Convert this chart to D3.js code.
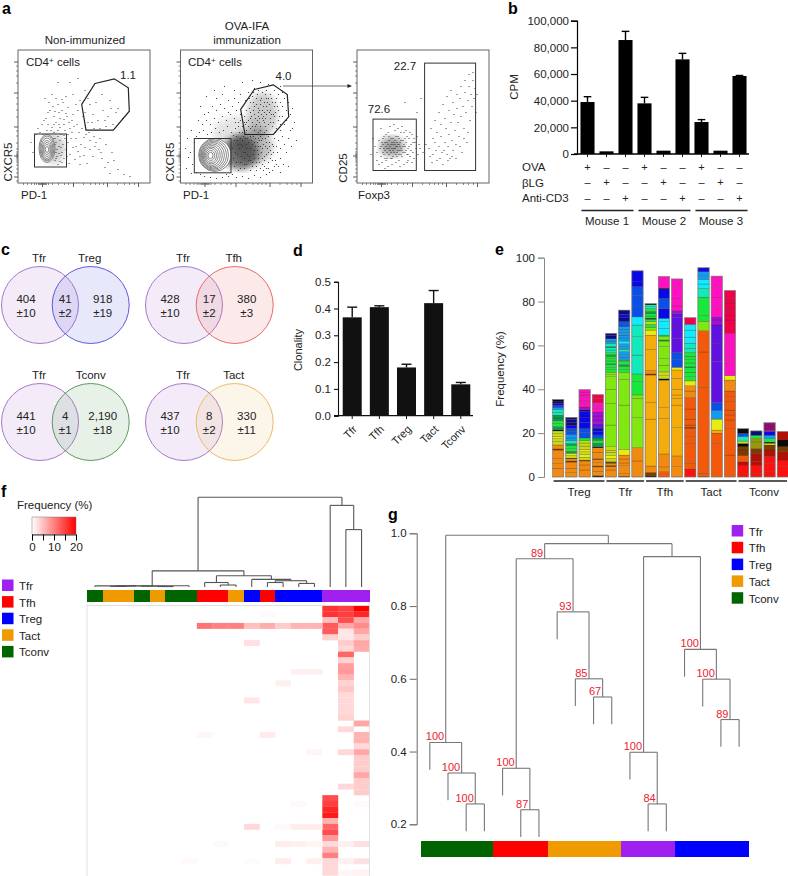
<!DOCTYPE html>
<html>
<head>
<meta charset="utf-8">
<script src="https://cdn.jsdelivr.net/npm/d3@7"></script>
<style>
  body { margin: 0; background: #fff; }
  svg { display: block; }
  text { font-family: "Liberation Sans", Arial, sans-serif; fill: #222; }
  .panel { font-size: 16px; font-weight: bold; fill: #000; }
</style>
</head>
<body>
<svg id="fig" width="788" height="876"></svg>
<script>
// ---- panel a: flow plots, values in channel units
const majorX = [24, 55, 89, 120];
const minorX = [5, 9, 13, 16, 18, 20, 21, 22, 23, 25, 26, 27, 28, 30, 34, 40, 46, 50, 65, 72, 77, 81, 85, 99, 106, 111, 116];
const majorY = [6, 27, 56, 90, 121];
const minorY = [2, 10, 14, 18, 21, 23, 25, 26, 28, 29, 31, 34, 40, 47, 52, 66, 73, 79, 85, 100, 107, 112, 117];

const flow1Points = [[35,44],[38,40],[41,36],[44,30],[46,24],[48,33],[50,40],[37,22],[40,18],[43,27],[52,28],[55,35],[57,23],[60,31],[63,38],[66,27],[69,19],[72,33],[75,26],[78,40],[62,18],[58,44],[54,50],[47,52],[42,55],[38,60],[33,52],[30,58],[36,66],[41,70],[46,63],[51,60],[56,56],[61,50],[66,45],[71,50],[76,46],[81,33],[84,24],[87,15],[92,9],[96,22],[100,13],[106,8],[112,6],[82,44],[88,38],[94,30],[70,60],[65,66],[60,72],[55,68],[50,75],[45,80],[40,78],[35,76],[48,86],[30,70],[26,62],[22,50],[27,84],[55,88],[34,88],[75,68],[80,62],[85,72],[90,66],[95,58],[100,74],[105,64],[78,80],[84,88],[92,82],[98,70],[72,78],[67,70],[88,56],[76,54],[52,100],[60,104],[40,100],[36,36],[38,30],[39,26],[37,44],[40,46],[42,42],[45,38],[47,44],[49,26],[51,19],[53,44],[44,20],[36,50],[40,52],[43,48],[33,46],[18,48],[15,30],[13,40],[20,54],[24,58],[28,64],[32,72],[38,84],[44,72],[49,66],[54,62],[59,58],[64,54],[68,48],[72,42],[77,36],[83,30],[90,20],[58,36],[62,26],[67,35],[50,48],[46,58],[42,64],[36,58],[31,80],[62,82],[58,78],[67,92],[70,84],[87,62],[93,74],[82,54],[74,60],[39,33],[41,29],[37,38],[43,35],[35,29],[38,24],[42,21],[46,47],[34,55],[29,52],[25,48],[41,58],[48,69],[44,83],[37,71],[52,54]];

const flow2Points = [[12,18],[10,30],[8,25],[14,40],[16,46],[19,50],[23,52],[27,48],[31,50],[35,54],[39,50],[43,52],[47,56],[51,50],[55,54],[59,50],[63,46],[67,44],[71,48],[75,44],[79,42],[83,38],[87,34],[91,28],[95,22],[98,16],[92,12],[86,8],[80,5],[74,7],[68,4],[62,6],[56,5],[52,8],[58,12],[64,14],[70,12],[76,16],[82,18],[88,20],[84,26],[78,24],[72,20],[66,18],[60,20],[54,16],[53,24],[57,28],[61,26],[65,30],[69,26],[73,28],[77,32],[81,30],[85,44],[89,40],[93,36],[97,30],[100,24],[103,18],[106,30],[22,58],[26,62],[30,58],[34,64],[38,60],[42,66],[46,62],[50,68],[54,64],[58,60],[62,56],[66,60],[70,54],[74,52],[78,50],[82,48],[86,52],[90,48],[94,44],[98,42],[102,46],[28,70],[32,76],[36,72],[40,78],[44,74],[48,70],[52,76],[56,72],[60,68],[64,66],[68,62],[72,60],[76,58],[80,56],[84,60],[88,58],[92,56],[96,54],[100,52],[104,58],[36,84],[42,88],[48,82],[54,84],[58,80],[62,76],[66,72],[70,70],[74,68],[78,66],[82,64],[86,68],[90,64],[94,66],[98,62],[102,66],[106,62],[60,88],[65,82],[70,80],[74,76],[78,74],[82,72],[86,76],[90,72],[94,76],[98,72],[102,76],[106,72],[110,68],[68,90],[72,86],[76,84],[80,82],[84,80],[88,84],[92,80],[96,84],[100,80],[104,84],[74,94],[78,92],[82,90],[86,92],[90,88],[94,92],[98,88],[102,90],[80,100],[88,98],[95,96],[100,96],[78,70],[80,78],[84,70],[86,84],[76,78],[73,72],[75,64],[79,60],[83,66],[87,72],[89,78],[91,68],[93,60],[95,70],[85,64],[81,68],[77,62],[71,66],[69,74],[73,80],[66,52],[70,46],[74,40],[78,36],[82,44],[86,40],[90,32],[62,42],[66,38],[70,34],[74,32],[78,28],[82,24],[86,28],[90,24],[94,16],[52,34],[54,42],[56,46],[58,38],[60,44],[62,36],[64,24],[66,34],[68,40],[70,22],[72,38],[74,24],[76,20],[78,44],[80,36],[82,34],[84,22],[86,14],[88,30],[92,38],[96,36],[100,34],[104,38],[108,44],[111,36],[112,54],[116,42],[100,10],[108,16],[46,8],[48,6],[42,5],[36,4],[30,5],[24,6],[20,8],[16,10],[11,9],[6,14],[5,34],[7,44],[11,52],[18,62],[24,68],[20,76],[26,86],[34,92],[44,96],[54,92],[62,100],[72,102],[110,52],[114,60],[108,80],[112,74],[55,30],[59,34],[63,30],[67,28],[71,42],[75,36],[79,20],[83,12],[89,10],[58,56],[62,50],[64,60],[68,56],[72,56],[76,48],[80,46],[84,50],[88,46],[53,47],[57,42],[61,38],[65,44],[69,48],[73,46],[77,40],[81,42],[85,36],[89,36],[93,30],[56,20],[60,14],[64,18],[68,22],[72,16],[76,12],[80,14],[84,16],[88,14],[92,22],[96,18],[55,60],[60,62],[65,58],[70,64],[75,56],[80,52],[85,56],[90,60],[95,50],[100,58],[79,72],[83,76],[87,80],[81,84],[85,88],[77,88],[73,90],[69,84],[91,84],[95,80],[97,76],[99,66],[93,68],[89,70],[83,62],[79,64]];

const flow3Points = [[18,36],[20,30],[22,42],[24,26],[26,38],[27,46],[28,32],[29,22],[30,40],[31,50],[32,28],[33,36],[34,44],[35,24],[36,32],[37,40],[38,52],[39,28],[40,36],[41,46],[42,22],[43,32],[44,42],[45,26],[46,36],[47,50],[48,30],[49,40],[50,20],[51,34],[52,44],[53,26],[54,38],[55,48],[56,30],[57,24],[58,40],[59,34],[60,46],[61,28],[62,38],[20,22],[23,34],[25,20],[27,28],[29,48],[31,16],[33,56],[35,18],[37,58],[39,20],[41,54],[43,16],[45,56],[47,18],[49,52],[51,22],[53,50],[55,20],[57,44],[14,28],[16,44],[22,18],[24,54],[28,14],[30,24],[32,34],[34,30],[36,38],[38,34],[40,30],[42,38],[44,34],[46,30],[34,38],[36,26],[38,42],[40,26],[42,44],[44,28],[46,42],[30,34],[28,40],[26,30],[32,42],[48,36],[50,28],[52,36],[54,32],[56,40],[72,34],[76,28],[78,40],[80,22],[82,36],[84,46],[85,30],[86,18],[88,40],[89,54],[90,28],[91,36],[92,48],[93,24],[94,60],[95,42],[96,32],[97,68],[98,52],[99,38],[100,74],[101,60],[102,46],[103,84],[104,66],[105,30],[106,76],[107,54],[108,90],[109,70],[110,40],[111,82],[112,96],[113,62],[114,88],[115,76],[116,102],[117,84],[118,94],[119,70],[120,88],[108,102],[112,108],[116,110],[104,96],[100,88],[96,80],[92,72],[88,64],[84,58],[80,50],[76,44],[74,54],[78,62],[82,70],[86,78],[90,86],[94,92],[73,26],[75,20],[79,32],[83,24],[87,32],[91,22],[95,26],[99,24],[103,36],[107,44],[111,50],[63,34],[66,30],[69,38],[60,70],[48,80],[64,84],[24,36],[26,44],[28,24],[30,30],[32,46],[34,24],[35,34],[36,44],[37,30],[38,38],[39,46],[40,40],[41,32],[42,28],[43,40],[44,50],[45,32],[47,38],[48,44],[49,32],[50,46],[51,28],[35,40],[33,32],[31,38],[29,36],[27,34],[25,40],[37,34],[39,36],[41,38],[43,36]];

const flow1Gate = [[77,99],[96.3,103.7],[110.3,94.7],[111.3,71.3],[95.3,52.3],[68,52.3],[63.7,78]];
const flow2Gate = [[73.8,93],[92.8,97.7],[106.8,88],[108.2,65.7],[92.8,48],[64.5,48],[60.2,73]];
const flow1Rect = [16.5, 48.5, 15.5, 48.5];
const flow2Rect = [13.8, 50.5, 9.7, 44];
const flow3RectA = [16, 59.3, 12, 63.4];
const flow3RectB = [67.6, 118.6, 12, 119.4];
const flow1Contours = [[29,34,8,14],[29,34,7,12.5],[29,33.5,6,11],[29,33,5,9],[29,33,4,7],[29,33,3,5],[29,33,1.6,3]];
const flow2Contours = [[34.3,27.5,16,16.5],[33.5,27.4,14.5,15.3],[33,27.3,13,14],[32.4,27.2,11.5,12.8],[31.8,27.1,10,11.5],[31.3,27,8.5,10],[30.8,27,7,8.5],[30.5,27,5.5,7],[30.2,27,4,5],[30,27,2.5,3.2]];
// smoothed density under the dots: cx, cy, rx, ry, darkness
const flow1Density = [[36,34,11,15,0.22]];
const flow2Density = [[60,30,18,17,0.62],[72,36,20,18,0.3],[82,68,15,22,0.24],[58,50,26,16,0.12]];
const flow3Density = [[35,36,12,10,0.42]];

// ---- panel b
const cpmValues = [39000, 2000, 85500, 38000, 2500, 71000, 24000, 2500, 58500];
const cpmErrors = [4000, 0, 6500, 4500, 0, 4500, 1800, 0, 400];
const cpmTicks = [0, 20000, 40000, 60000, 80000, 100000];
const stimRows = ["OVA", "βLG", "Anti-CD3"];
const stimSigns = [["+","–","–","+","–","–","+","–","–"],["–","+","–","–","+","–","–","+","–"],["–","–","+","–","–","+","–","–","+"]];
const mice = ["Mouse 1", "Mouse 2", "Mouse 3"];

// ---- panel c
const vennNames = [["Tfr","Treg"],["Tfr","Tfh"],["Tfr","Tconv"],["Tfr","Tact"]];
const vennCounts = [[["404","±10"],["41","±2"],["918","±19"]],[["428","±10"],["17","±2"],["380","±3"]],[["441","±10"],["4","±1"],["2,190","±18"]],[["437","±10"],["8","±2"],["330","±11"]]];

// ---- panel d
const subsets = ["Tfr","Tfh","Treg","Tact","Tconv"];
const clonality = [0.367, 0.405, 0.18, 0.42, 0.117];
const clonalityErr = [0.038, 0.005, 0.012, 0.047, 0.007];

// ---- panel e: clones from the bottom of each bar, [colour band, frequency]
const stacks = [
  [["o",4],["o",2],["o",2.5],["o",3.8],["w",.5],["o",1.8],["l",1.6],["l",1.3],["y",1.1],["l",1.2],["l",1.2],["k",.5],["G",1.5],["g",1.4],["g",1.2],["G",1.3],["G",1.3],["t",1.3],["t",1.2],["s",.9],["b",1],["B",1],["n",1],["k",.7]],
  [["o",2],["o",2],["o",2.8],["w",.5],["o",1],["k",.3],["l",1.2],["y",1],["G",.9],["g",1.3],["g",1.3],["G",1],["t",1.2],["s",1.3],["s",1.5],["b",1.5],["b",1.4],["B",1.2],["n",1.5],["n",1.3],["n",1]],
  [["o",3.2],["o",2.3],["o",1.8],["w",.4],["l",1.3],["y",1.2],["l",1.3],["y",1.2],["l",1.4],["l",1.4],["l",1],["g",1.3],["b",2.5],["b",2],["B",2.5],["B",2.5],["B",2.5],["n",.8],["p",1.3],["m",1.5],["m",1.3],["m",1.4],["m",1.3],["m",1.3],["m",1.1]],
  [["k",.6],["o",2],["o",2],["w",.4],["o",1.5],["o",1.4],["w",.4],["o",3],["o",2],["k",.5],["G",1.6],["g",1.4],["G",1],["b",1.4],["B",1.5],["B",1.3],["n",.6],["v",1.7],["p",1.7],["p",1.8],["p",1.8],["m",1.5],["m",1.5],["m",1.5],["r",1.7],["r",1.7]],
  [["o",3.2],["o",1.5],["w",.6],["o",1],["w",.7],["l",1.5],["y",1.3],["l",1.5],["l",.9],["l",1.6],["L",9.9],["L",9.9],["L",6.4],["L",5.7],["L",1],["L",1],["g",1.2],["g",1],["g",1.3],["G",.5],["g",1.2],["g",1],["g",1.2],["G",.6],["g",1],["t",1.2],["t",1],["G",.6],["t",1.5],["s",1],["s",1],["n",1.5],["n",1]],
  [["w",.4],["o",1.2],["o",3.6],["o",1.2],["o",1.8],["o",1.8],["y",2.6],["L",20.2],["L",11.7],["L",3.1],["g",1.4],["g",1.5],["G",.7],["g",1.5],["g",.6],["s",1.3],["s",1.2],["s",1.4],["t",1.1],["s",1.2],["s",1.3],["c",1.2],["s",1.4],["s",1.3],["s",1.3],["s",1.4],["s",1.1],["b",1.4],["b",1.2],["n",1.5],["B",1.5],["n",2]],
  [["o",7.3],["o",6.1],["L",13.6],["L",8.9],["L",1.5],["g",6.1],["g",3.5],["t",8.6],["t",8.4],["t",5.3],["c",3.7],["b",4.6],["b",5.1],["b",4.1],["B",2.2],["B",5]],
  [["k",.5],["w",1.6],["o",2.9],["a",21.4],["a",7.6],["a",12.5],["w",.5],["o",1.6],["a",9.6],["a",6.5],["y",2.3],["L",1.3],["g",1.3],["l",1.2],["g",1.2],["k",.4],["g",1],["g",1],["G",1.1],["g",1.2],["t",1],["t",.8],["k",.5]],
  [["O",2.4],["o",2.2],["o",5.9],["a",16.2],["a",4.9],["a",12.6],["k",.6],["l",1.4],["l",1.3],["y",.5],["L",3],["L",3],["L",5.5],["L",2.5],["G",.5],["L",1.5],["g",.7],["c",3.1],["c",3],["c",1.5],["B",4.5],["b",4.7],["B",4.2],["n",.4],["m",5.3]],
  [["o",4.7],["o",4.9],["a",12.9],["a",10.3],["a",3.1],["a",1.5],["a",2.6],["a",5],["a",3.8],["y",1.2],["b",3.5],["b",3.3],["v",6.4],["v",6.5],["v",3],["v",1.9],["p",1.4],["m",2],["m",3.5],["m",5.3],["m",3.5]],
  [["R",3.6],["O",2.6],["O",9.1],["O",3.1],["O",3.8],["w",.5],["O",1],["O",2.7],["O",4.6],["O",5.2],["o",3],["o",2.4],["y",2.2],["g",2],["g",2],["g",2],["G",.4],["g",1.8],["g",1.5],["g",1.6],["g",1.7],["t",1.9],["t",2.3],["c",2.8],["c",3.2],["c",2.6],["r",3]],
  [["w",.3],["O",1.4],["O",39.2],["O",16.1],["O",9.7],["L",4.3],["g",2.5],["g",8.5],["t",4],["c",2],["c",2],["s",1.8],["s",1.8],["B",1.8]],
  [["O",15.3],["O",4.7],["a",1.4],["y",5],["s",4.1],["b",3.5],["v",18.6],["v",8.4],["v",8.3],["p",2.3],["p",1.5],["m",4.6],["m",4.3],["m",4.8],["m",4.8]],
  [["O",10],["O",12],["O",4],["O",2.3],["O",2.2],["O",3.8],["O",2.3],["O",2.6],["o",5],["y",2],["m",5.6],["m",3.2],["m",5],["m",5.5],["r",6.1],["r",2.3],["r",3.1],["r",2.3],["r",2.2],["r",3.5]],
  [["R",1.7],["R",3.8],["D",1.5],["O",2.7],["w",2.6],["w",1.5],["k",1.5],["l",1.1],["t",2],["b",1.5],["k",2.1]],
  [["R",1.7],["R",3.8],["D",1.5],["D",3.8],["w",2.2],["e",3],["e",1.5],["g",1.5],["n",2]],
  [["R",2.4],["R",3.8],["R",3.1],["D",3],["w",2.3],["y",.8],["k",.5],["g",1.6],["s",1.5],["B",1.8],["p",.4],["q",3.5]],
  [["R",4.7],["R",3],["D",3.8],["w",2.3],["k",3.1],["D",3.8]]
];
const stackGroups = [["Treg",0,3],["Tfr",4,6],["Tfh",7,9],["Tact",10,13],["Tconv",14,17]];
const freqTicks = [0, 20, 40, 60, 80, 100];

// ---- panel f
const subsetKeys = ["Tfr","Tfh","Treg","Tact","Tconv"];
const heatColumns = ["Tconv","Tact","Tact","Tconv","Tact","Tconv","Tconv","Tfh","Tfh","Tact","Treg","Tfh","Treg","Treg","Treg","Tfr","Tfr","Tfr"];
// [row, column, frequency], everything else is zero
const heatCells = [
  [0,15,16],[1,15,16],[2,15,5],[3,15,13],[4,15,13],[5,15,3.5],
  [0,16,15],[1,16,15],[2,16,14],[3,16,7],[4,16,2],[5,16,2],[6,16,4],[7,16,3],[8,16,12],[9,16,3.5],[10,16,7.5],[11,16,8],[12,16,6],[13,16,3.5],[14,16,4.5],[15,16,3],[16,16,3],[17,16,3],[18,16,3],[19,16,3.5],[21,16,3],
  [0,17,20],[1,17,17],[2,17,7],[3,17,9],[4,17,7],[5,17,4],[6,17,7],[7,17,6.5],[20,17,7],
  [3,7,11],[3,8,10],[3,9,10],[3,10,5],[3,11,6.5],[3,12,4],[3,13,6],[3,14,6],[1,11,.5],[6,10,2.5],
  [11,13,1.2],[11,14,1.2],[13,12,1.2],[16,10,2],[22,7,.6],[22,11,1.6],
  [22,17,6],[23,17,6],[24,17,3],[25,17,7],[26,17,4],[27,17,4],[28,17,4],[29,17,7],[30,17,4],[31,17,4],[32,17,4],
  [25,16,3],[25,14,.8],[31,16,3],[34,13,.4],[34,17,.3],
  [33,15,14],[34,15,15],[35,15,17],[36,15,18],[37,15,6],[38,15,12],[39,15,14],[40,15,8],[41,15,3],[42,15,6],[43,15,10],[44,15,3],[45,15,3],[46,15,3],
  [38,10,3],[38,12,.5],[38,13,1.5],[38,14,1.5],
  [41,8,.4],[41,12,1.5],[41,13,1.2],[41,14,.8],[41,16,1.2],[41,17,2.5],
  [44,6,.5],[44,10,.3],[44,12,1.5],[44,14,1.2],[44,16,1.2],[44,17,2.5],[46,16,.8],[46,17,1]
];
const heatRowCount = 47;
const heatTicks = [0, 5, 10, 15, 20];
const heatTickLabels = [0, 10, 20];
// [height, left, right]; a number is a column index
const heatTree = [1,
  [.18,
    [.014, [.012, 0, [.011, [.006,1,2], [.009,3,[.005,4,5]]]], 6],
    [.125, [.05,7,[.022,8,9]], [.085,10,[.07,[.05,11,12],[.04,13,14]]]]],
  [.91,15,[.64,16,17]]];

// ---- panel g: [height, left, right, bootstrap label]
const treeTicks = [0.2, 0.4, 0.6, 0.8, 1.0];
const treeLeaves = ["Tconv","Tconv","Tconv","Tconv","Tfh","Tfh","Tfh","Tact","Tact","Tact","Tact","Tfr","Tfr","Tfr","Treg","Treg","Treg","Treg"];
const treeHang = 0.075;
const cloneTree = [.9945,
  [.425, 0, [.341, 1, [.256, 2, 3, "100"], "100"], "100"],
  [.9716,
    [.93,
      [.354, 4, [.24, 5, 6, "87"], "100"],
      [.784, 7, [.6, 8, [.55, 9, 10, "67"], "85"], "93"], "89"],
    [.936,
      [.398, 11, [.256, 12, 13, "84"], "100"],
      [.681, 14, [.599, 15, [.488, 16, 17, "89"], "100"], "100"]]]];

// ---- colours
const subsetColor = d3.scaleOrdinal(subsetKeys, ["#a020f0", "#ff0000", "#0000ff", "#ee9a00", "#006400"]);
const cloneColor = {R:"#ff1010",D:"#b01008",O:"#f2590a",o:"#f08a10",a:"#f4ac0c",y:"#e8ec10",l:"#c4dc18",e:"#98980c",L:"#80e810",g:"#18e83c",G:"#0c9c50",t:"#10eabc",c:"#10ecff",s:"#109cf0",b:"#0850e8",B:"#0808e8",n:"#0c0c80",v:"#6010e0",p:"#a010d8",m:"#ff10c0",q:"#900a70",r:"#f00048",k:"#0a0a0a",w:"#7a3c00"};

const svg = d3.select("#fig");
const line = (g, x1, y1, x2, y2, color, w) => g.append("line").attr("x1", x1).attr("y1", y1).attr("x2", x2).attr("y2", y2).attr("stroke", color).attr("stroke-width", w);
const label = (g, x, y, txt, size, anchor) => g.append("text").attr("x", x).attr("y", y).attr("font-size", size).attr("text-anchor", anchor || "start").text(txt);
const vlabel = (g, x, y, txt, size) => g.append("text").attr("transform", `translate(${x},${y}) rotate(-90)`).attr("font-size", size).attr("text-anchor", "middle").text(txt);

[["a",2,14],["b",508,14],["c",1,255],["d",293,256],["e",495,255],["f",1,497],["g",388,520]]
  .forEach(d => svg.append("text").attr("class", "panel").attr("x", d[1]).attr("y", d[2]).text(d[0]));

// ---------- a
svg.append("defs").append("filter").attr("id", "soft").append("feGaussianBlur").attr("stdDeviation", 3);

function flowPlot(left, top, opts) {
  const x = d3.scaleLinear([0, 132], [left, left + 132]);
  const y = d3.scaleLinear([0, 132], [top + 132.5, top + 0.5]);
  const g = svg.append("g");
  (opts.density).forEach(d => g.append("ellipse")
    .attr("cx", x(d[0])).attr("cy", y(d[1])).attr("rx", d[2]).attr("ry", d[3])
    .attr("fill", "#222").attr("opacity", d[4]).attr("filter", "url(#soft)"));
  g.selectAll("circle.dot").data(opts.points).join("circle").attr("class", "dot")
    .attr("cx", d => x(d[0])).attr("cy", d => y(d[1])).attr("r", 0.6).attr("fill", "#2a2a2a");
  (opts.contours || []).forEach((d, i) => g.append("ellipse")
    .attr("cx", x(d[0])).attr("cy", y(d[1])).attr("rx", d[2]).attr("ry", d[3])
    .attr("fill", i == 0 ? "#fff" : "none").attr("stroke", "#555").attr("stroke-width", 0.7));
  g.append("rect").attr("x", left).attr("y", top).attr("width", 132).attr("height", 133).attr("fill", "none").attr("stroke", "#666").attr("stroke-width", 1);
  // ticks
  g.append("g").attr("transform", `translate(0,${top + 133})`).call(d3.axisBottom(x).tickValues(minorX).tickSize(2).tickFormat("")).call(a => a.select(".domain").remove()).selectAll("line").attr("stroke", "#444").attr("stroke-width", 0.6);
  g.append("g").attr("transform", `translate(0,${top + 133})`).call(d3.axisBottom(x).tickValues(majorX).tickSize(4).tickFormat("")).call(a => a.select(".domain").remove()).selectAll("line").attr("stroke", "#333").attr("stroke-width", 0.8);
  g.append("g").attr("transform", `translate(${left},0)`).call(d3.axisLeft(y).tickValues(minorY).tickSize(2).tickFormat("")).call(a => a.select(".domain").remove()).selectAll("line").attr("stroke", "#444").attr("stroke-width", 0.6);
  g.append("g").attr("transform", `translate(${left},0)`).call(d3.axisLeft(y).tickValues(majorY).tickSize(4).tickFormat("")).call(a => a.select(".domain").remove()).selectAll("line").attr("stroke", "#333").attr("stroke-width", 0.8);
  (opts.rects).forEach(r => g.append("rect").attr("x", x(r[0])).attr("y", y(r[3])).attr("width", x(r[1]) - x(r[0])).attr("height", y(r[2]) - y(r[3])).attr("fill", "none").attr("stroke", "#333").attr("stroke-width", 1));
  if (opts.gate) g.append("path").attr("d", d3.line().x(d => x(d[0])).y(d => y(d[1])).curve(d3.curveLinearClosed)(opts.gate)).attr("fill", "none").attr("stroke", "#222").attr("stroke-width", 1.2);
}
flowPlot(18, 50, {points: flow1Points, density: flow1Density, contours: flow1Contours, rects: [flow1Rect], gate: flow1Gate});
flowPlot(180.5, 50, {points: flow2Points, density: flow2Density, contours: flow2Contours, rects: [flow2Rect], gate: flow2Gate});
flowPlot(357, 50, {points: flow3Points, density: flow3Density, rects: [flow3RectA, flow3RectB]});

const aText = svg.append("g");
label(aText, 85, 44, "Non-immunized", 11.5, "middle");
label(aText, 247, 30, "OVA-IFA", 11.5, "middle");
label(aText, 247, 44, "immunization", 11.5, "middle");
[[26, 66], [188, 66]].forEach(p => {
  const t = label(aText, p[0], p[1], "CD4", 11.5);
  t.append("tspan").attr("dy", -3.5).attr("font-size", 8).text("+");
  t.append("tspan").attr("dy", 3.5).text(" cells");
});
label(aText, 128, 79, "1.1", 11.5, "middle");
label(aText, 283.5, 80, "4.0", 11.5, "middle");
label(aText, 405, 70, "22.7", 11.5, "middle");
label(aText, 379, 113, "72.6", 11.5, "middle");
vlabel(aText, 12, 162, "CXCR5", 11.5);
vlabel(aText, 174, 162, "CXCR5", 11.5);
vlabel(aText, 347, 168, "CD25", 11.5);
label(aText, 21, 199, "PD-1", 11.5);
label(aText, 183, 199, "PD-1", 11.5);
label(aText, 358, 199, "Foxp3", 11.5);
line(aText, 283, 86, 349, 86, "#333", 0.7);
aText.append("path").attr("d", "M352,86L347.5,84V88Z").attr("fill", "#222");

// ---------- b
{
  const g = svg.append("g");
  const x = d3.scaleBand(d3.range(cpmValues.length), [578, 749]).paddingInner(0.26).paddingOuter(0.13);
  const y = d3.scaleLinear([0, 100000], [154, 20.7]);
  g.selectAll("rect").data(cpmValues).join("rect").attr("x", (d, i) => x(i)).attr("y", d => y(d)).attr("width", x.bandwidth()).attr("height", d => y(0) - y(d)).attr("fill", "#000");
  cpmValues.forEach((v, i) => {
    const cx = x(i) + x.bandwidth() / 2, e = cpmErrors[i];
    if (!e) return;
    line(g, cx, y(v), cx, y(v + e), "#000", 1.4);
    line(g, cx - 3.8, y(v + e), cx + 3.8, y(v + e), "#000", 1.4);
  });
  cpmValues.forEach((v, i) => line(g, x(i) + x.bandwidth() / 2, 154, x(i) + x.bandwidth() / 2, 157, "#000", 0.9));
  const ax = g.append("g").attr("transform", "translate(577,0)").call(d3.axisLeft(y).tickValues(cpmTicks).tickSize(6).tickPadding(2).tickFormat(d3.format(",")));
  ax.select(".domain").attr("stroke", "#000").attr("stroke-width", 1.2);
  ax.selectAll("text").attr("font-size", 11.5).attr("font-family", "Liberation Sans").attr("fill", "#222");
  ax.selectAll("line").attr("stroke-width", 1.2);
  line(g, 574, 154, 749, 154, "#000", 1.4);
  vlabel(g, 518, 87, "CPM", 11.5);
  stimRows.forEach((r, k) => {
    const yy = 171 + k * 15.6;
    label(g, 522, yy, r, 11.5);
    stimSigns[k].forEach((s, i) => label(g, x(i) + x.bandwidth() / 2, yy - 0.5, s, 11, "middle"));
  });
  mice.forEach((m, k) => {
    const a = x(k * 3), b = x(k * 3 + 2) + x.bandwidth();
    line(g, a + 1, 210.5, b + 1, 210.5, "#222", 1.3);
    label(g, (a + b) / 2 + 0.5, 225, m, 11.5, "middle");
  });
}

// ---------- c
{
  const g = svg.append("g");
  const col = d3.scaleOrdinal(subsetKeys, ["#a878cc", "#ea6868", "#5a5ae0", "#edbb66", "#5c9a5c"]);
  const vx = d3.scalePoint([0, 1], [0, 144]), vy = d3.scalePoint([0, 1], [305, 422]);
  vennNames.forEach((names, k) => {
    const ox = vx(k % 2), cy = vy(Math.floor(k / 2));
    const cl = 40 + ox, cr = 90.7 + ox;
    [[cl, names[0]], [cr, names[1]]].forEach(c => g.append("circle").attr("cx", c[0]).attr("cy", cy).attr("r", 38.5)
      .attr("fill", col(c[1])).attr("fill-opacity", 0.14).attr("stroke", col(c[1])).attr("stroke-width", 1));
    label(g, cl - 1, cy - 43, names[0], 11.5, "middle");
    label(g, cr - (names[1] == "Tconv" ? 0 : 1), cy - 43, names[1], 11.5, "middle");
    [cl - 14, 65.2 + ox, cr + 12].forEach((tx, j) => {
      label(g, tx, cy - 2, vennCounts[k][j][0], 11.5, "middle");
      label(g, tx, cy + 12, vennCounts[k][j][1], 11.5, "middle");
    });
  });
}

// ---------- d
{
  const g = svg.append("g");
  const x = d3.scaleBand(subsets, [340, 473]).paddingInner(0.3).paddingOuter(0.1);
  const y = d3.scaleLinear([0, 0.5], [415.7, 281.7]);
  subsets.forEach((s, i) => {
    const cx = x(s) + x.bandwidth() / 2, v = clonality[i], e = clonalityErr[i];
    g.append("rect").attr("x", x(s)).attr("y", y(v)).attr("width", x.bandwidth()).attr("height", y(0) - y(v)).attr("fill", "#111");
    line(g, cx, y(v), cx, y(v + e), "#111", 1.4);
    line(g, cx - 5, y(v + e), cx + 5, y(v + e), "#111", 1.4);
    line(g, cx, 415.7, cx, 419, "#111", 1);
    g.append("text").attr("transform", `translate(${cx + 5.5},${430}) rotate(-45)`).attr("font-size", 11).attr("text-anchor", "end").text(s);
  });
  const ax = g.append("g").attr("transform", "translate(338,0)").call(d3.axisLeft(y).tickValues([0, .1, .2, .3, .4, .5]).tickSize(4).tickPadding(3).tickFormat(d3.format(".1f")));
  ax.select(".domain").attr("stroke", "#111").attr("stroke-width", 1.1);
  ax.selectAll("text").attr("font-size", 11.5).attr("font-family", "Liberation Sans").attr("fill", "#222");
  line(g, 334, 415.7, 473, 415.7, "#111", 1.2);
  vlabel(g, 302, 350, "Clonality", 11);
}

// ---------- e
{
  const g = svg.append("g");
  const x = d3.scaleBand(d3.range(stacks.length), [552.6, 788.4]).paddingInner(0.15).paddingOuter(0);
  const y = d3.scaleLinear([0, 100], [477, 257.7]);
  stacks.forEach((bar, i) => {
    let acc = 0;
    bar.forEach(seg => {
      g.append("rect").attr("x", x(i)).attr("y", y(acc + seg[1])).attr("width", x.bandwidth()).attr("height", y(acc) - y(acc + seg[1]))
        .attr("fill", cloneColor[seg[0]]).attr("stroke", "#3a2000").attr("stroke-width", 0.3).attr("stroke-opacity", 0.7);
      acc += seg[1];
    });
    g.append("rect").attr("x", x(i)).attr("y", y(acc)).attr("width", x.bandwidth()).attr("height", y(0) - y(acc)).attr("fill", "none").attr("stroke", "#888").attr("stroke-width", 0.6);
  });
  const ax = g.append("g").attr("transform", "translate(544,0)").call(d3.axisLeft(y).tickValues(freqTicks).tickSize(6).tickPadding(3));
  ax.select(".domain").attr("stroke", "#888");
  ax.selectAll("line").attr("stroke", "#888");
  ax.selectAll("text").attr("font-size", 11.5).attr("font-family", "Liberation Sans").attr("fill", "#222");
  vlabel(g, 504, 369, "Frequency (%)", 11.5);
  stackGroups.forEach(d => {
    const a = x(d[1]), b = x(d[2]) + x.bandwidth();
    line(g, a + 1, 481, Math.min(b + 1, 787), 481, "#222", 1.3);
    label(g, (a + b) / 2 + 1, 496, d[0], 11.5, "middle");
  });
}

// ---------- f
function subsetLegend(left, top, step) {
  subsetKeys.forEach((s, i) => {
    svg.append("rect").attr("x", left).attr("y", top + i * step).attr("width", 11.5).attr("height", 11.5).attr("fill", subsetColor(s));
    label(svg, left + 17, top + i * step + 10.5, s, 11.5);
  });
}
// walk a nested tree and draw elbows, returns the x of the node
function drawTree(g, node, x, y, opts) {
  if (typeof node == "number") return {x: x(node), leaf: true};
  const a = drawTree(g, node[1], x, y, opts), b = drawTree(g, node[2], x, y, opts);
  const h = y(node[0]);
  const low = k => k.leaf ? y(Math.max(opts.hang ? node[0] - opts.hang : 0, 0)) : k.y;
  line(g, a.x, h, b.x, h, opts.color, opts.width);
  line(g, a.x, h, a.x, low(a), opts.color, opts.width);
  line(g, b.x, h, b.x, low(b), opts.color, opts.width);
  const mid = (a.x + b.x) / 2;
  if (node[3]) g.append("text").attr("x", mid - 1.5).attr("y", h - 2).attr("text-anchor", "end").attr("font-size", 11).style("fill", "#f02030").text(node[3]);
  return {x: mid, y: h};
}
{
  const g = svg.append("g");
  label(g, 17, 509, "Frequency (%)", 11.5);
  const heat = d3.scaleLinear([0, 20], ["#ffffff", "#ff0000"]);
  const grad = svg.select("defs").append("linearGradient").attr("id", "heatGrad");
  grad.append("stop").attr("offset", "0%").attr("stop-color", heat(0));
  grad.append("stop").attr("offset", "100%").attr("stop-color", heat(20));
  const lx = d3.scaleLinear([0, 20], [32, 76]);
  g.append("rect").attr("x", 32).attr("y", 517).attr("width", 44).attr("height", 17.5).attr("fill", "url(#heatGrad)").attr("stroke", "#777").attr("stroke-width", 0.5);
  const la = g.append("g").attr("transform", "translate(0,534.5)").call(d3.axisBottom(lx).tickValues(heatTicks).tickSize(6).tickPadding(2).tickFormat(d => heatTickLabels.includes(d) ? d : ""));
  la.select(".domain").attr("stroke", "#333");
  la.selectAll("text").attr("font-size", 11.5).attr("font-family", "Liberation Sans").attr("fill", "#222");
  subsetLegend(2, 579.5, 16.6);

  const x = d3.scaleBand(d3.range(heatColumns.length), [87, 369.4]);
  const y = d3.scaleBand(d3.range(heatRowCount), [605.7, 875.5]);
  g.selectAll("rect.cbar").data(heatColumns).join("rect").attr("class", "cbar").attr("x", (d, i) => x(i)).attr("y", 590).attr("width", x.bandwidth() + 0.6).attr("height", 11.7).attr("fill", d => subsetColor(d)).attr("shape-rendering", "crispEdges");
  g.selectAll("rect.cell").data(heatCells).join("rect").attr("class", "cell").attr("x", d => x(d[1])).attr("y", d => y(d[0])).attr("width", x.bandwidth() + 0.2).attr("height", y.bandwidth() + 0.2).attr("fill", d => heat(d[2]));
  g.append("rect").attr("x", 87).attr("y", 605.5).attr("width", 282.4).attr("height", 272).attr("fill", "none").attr("stroke", "#ddd").attr("stroke-width", 0.9);
  const tx = d => x(d) + x.bandwidth() / 2;
  drawTree(g, heatTree, tx, d3.scaleLinear([0, 1], [587, 497.3]), {color: "#555", width: 1.1});
}

// ---------- g
{
  const g = svg.append("g");
  const x = d3.scaleBand(d3.range(treeLeaves.length), [420.7, 748.2]);
  const y = d3.scaleLinear([0.2, 1], [824.3, 533.3]);
  const ax = g.append("g").attr("transform", "translate(416.7,0)").call(d3.axisLeft(y).tickValues(treeTicks).tickSize(7).tickPadding(3).tickFormat(d3.format(".1f")));
  ax.select(".domain").attr("stroke", "#777").attr("stroke-width", 1.1);
  ax.selectAll("line").attr("stroke", "#777").attr("stroke-width", 1.1);
  ax.selectAll("text").attr("font-size", 11.5).attr("font-family", "Liberation Sans").attr("fill", "#222");
  drawTree(g, cloneTree, d => x(d) + x.bandwidth() / 2, y, {color: "#777", width: 1.1, hang: treeHang});
  g.selectAll("rect.cbar").data(treeLeaves).join("rect").attr("class", "cbar").attr("x", (d, i) => x(i)).attr("y", 841).attr("width", x.bandwidth() + 0.6).attr("height", 15.7).attr("fill", d => subsetColor(d)).attr("shape-rendering", "crispEdges");
  subsetLegend(731.7, 525, 16.8);
}
</script>
</body>
</html>
